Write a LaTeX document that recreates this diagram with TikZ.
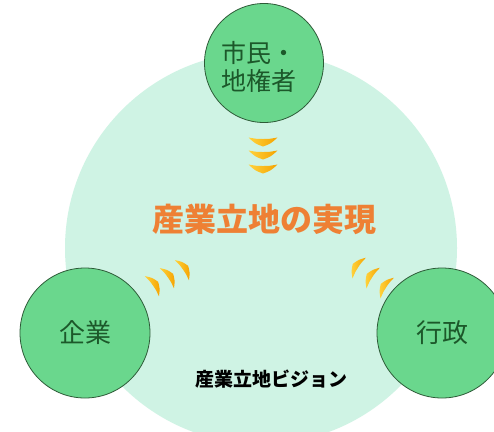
\documentclass[tikz,border=0pt]{standalone}
\usepackage{fontspec}
\newfontfamily\jp{Noto Sans CJK JP}
\definecolor{mint}{RGB}{207,243,228}
\definecolor{leaf}{RGB}{106,215,141}
\definecolor{leafline}{RGB}{45,90,55}
\definecolor{leaftext}{RGB}{28,88,42}
\definecolor{titleorange}{RGB}{238,128,52}
\definecolor{chevyellow}{RGB}{255,210,60}
\definecolor{chevorange}{RGB}{245,163,0}
\tikzset{
  actor/.style={circle, draw=leafline, line width=0.8pt, fill=leaf, inner sep=0pt,
    text=leaftext, font=\jp\fontsize{25}{28}\selectfont, align=center},
  chevron/.pic={
    \shade[left color=chevyellow, right color=chevorange]
      (-4.5,-14.5) .. controls (1.5,-8) .. (4.5,0) .. controls (1.5,8) .. (-4.5,14.5)
      .. controls (-3,6) .. (-3,0) .. controls (-3,-6) .. (-4.5,-14.5) -- cycle;
  }
}
\begin{document}
\begin{tikzpicture}[x=1pt,y=-1pt]
\useasboundingbox (0,0) rectangle (494,431);
\clip (0,0) rectangle (494,431);
\fill[white] (0,0) rectangle (494,431);
% big vision circle
\node[circle, fill=mint, minimum size=392pt, inner sep=0pt] (vision) at (261,248) {};
% chevrons
\pic[rotate=-90] at (263,142) {chevron};
\pic[rotate=-90] at (263,155) {chevron};
\pic[rotate=-90] at (263,169) {chevron};
\pic[rotate=35, scale=0.85] at (155,284) {chevron};
\pic[rotate=35, scale=0.85] at (170,276) {chevron};
\pic[rotate=35, scale=0.85] at (185,268) {chevron};
\pic[rotate=147, scale=0.85] at (356,266) {chevron};
\pic[rotate=147, scale=0.85] at (370,276) {chevron};
\pic[rotate=147, scale=0.85] at (384,286) {chevron};
% titles
\node[text=titleorange, font=\jp\bfseries\fontsize{32}{34}\selectfont] (goal) at (264,219) {産業立地の実現};
\node[text=black, font=\jp\bfseries\fontsize{19}{21}\selectfont] (visionlabel) at (271,379) {産業立地ビジョン};
% actors
\node[actor, minimum size=119pt] (citizen) at (264,63) {};
\node[text=leaftext, font=\jp\fontsize{25}{28}\selectfont, align=left] (citizenlabel) at (259,67) {市民・\\地権者};
\node[actor, minimum size=130pt, font=\jp\fontsize{26}{28}\selectfont] (company) at (85,333) {企業};
\node[actor, minimum size=130pt, font=\jp\fontsize{26}{28}\selectfont] (gov) at (442,333) {行政};
\end{tikzpicture}
\end{document}
